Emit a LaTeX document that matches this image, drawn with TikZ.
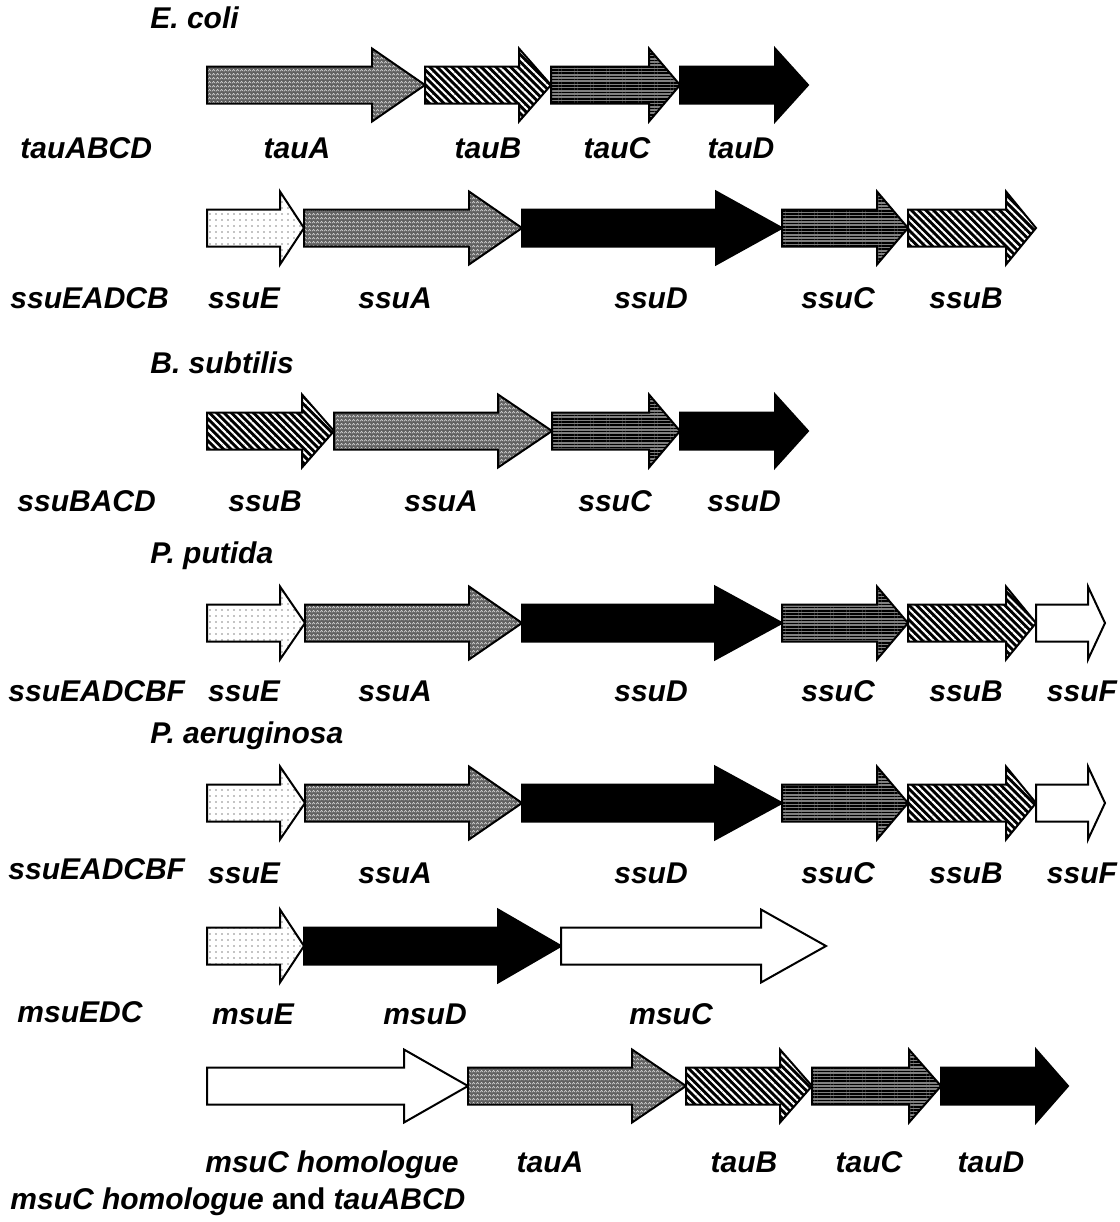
\documentclass[tikz,border=0pt]{standalone}
\usepackage{fontspec}
\setmainfont{Liberation Sans}
\usetikzlibrary{patterns,patterns.meta}

% white zigzag texture on grey
\tikzdeclarepattern{
  name=zigzag,
  type=uncolored,
  bottom left={(0pt,0pt)},
  top right={(2pt,1.8pt)},
  tile size={(2pt,1.8pt)},
  code={
    \draw[line width=0.35pt] (0pt,0.4pt) -- (1pt,1.4pt) -- (2pt,0.4pt);
  }
}

% gene drawn as a block arrow: start x, head base x, tip x, centre y
\newcommand{\genearrow}[5][]{%
  \path[genebox,#1] (#2,#5-18.5) -- (#3,#5-18.5) -- (#3,#5-36.5) -- (#4,#5)
    -- (#3,#5+36.5) -- (#3,#5+18.5) -- (#2,#5+18.5) -- cycle;}

\tikzset{
  genebox/.style={draw=black,line width=1pt,line join=miter},
  gzig/.style={preaction={fill=black!62},pattern=zigzag,pattern color=white!85!black},
  gdiag/.style={preaction={fill=black},
    pattern={Lines[angle=-45,distance=2.6pt,line width=1pt]},pattern color=white},
  ghor/.style={preaction={fill=black!50},
    pattern={Lines[angle=0,distance=1.6pt,line width=0.75pt]},pattern color=black},
  gblack/.style={fill=black},
  gdots/.style={preaction={fill=white},
    pattern={Dots[distance=3pt,radius=0.3pt]},pattern color=black},
  gwhite/.style={fill=white},
  lbl/.style={font=\fontsize{15}{18}\selectfont\bfseries\itshape,anchor=base,inner sep=0pt},
  side/.style={lbl,anchor=base west},
}

\begin{document}
\begin{tikzpicture}[x=0.5pt,y=-0.5pt]
\useasboundingbox (0,0) rectangle (1120,1222);

% ---- E. coli tauABCD ----
\node[side] (ecoli) at (150,28) {E. coli};
\genearrow[gzig]{207}{372}{425}{85}
\genearrow[gdiag]{425}{519}{551}{85}
\genearrow[ghor]{551}{649}{680}{85}
\genearrow[gblack]{680}{775}{808}{85}
\node[side] (tauop) at (20,158) {tauABCD};
\node[lbl] (tA1) at (297,158) {tauA};
\node[lbl] (tB1) at (488,158) {tauB};
\node[lbl] (tC1) at (617,158) {tauC};
\node[lbl] (tD1) at (741,158) {tauD};

% ---- E. coli ssuEADCB ----
\genearrow[gdots]{207}{280}{304}{228}
\genearrow[gzig]{304}{469}{522}{228}
\genearrow[gblack]{522}{716}{782}{228}
\genearrow[ghor]{782}{877}{908}{228}
\genearrow[gdiag]{908}{1006}{1036}{228}
\node[side] (ssuop1) at (10,308) {ssuEADCB};
\node[lbl] (sE2) at (244,308) {ssuE};
\node[lbl] (sA2) at (395,308) {ssuA};
\node[lbl] (sD2) at (651,308) {ssuD};
\node[lbl] (sC2) at (838,308) {ssuC};
\node[lbl] (sB2) at (966,308) {ssuB};

% ---- B. subtilis ssuBACD ----
\node[side] (bsub) at (150,373) {B. subtilis};
\genearrow[gdiag]{207}{302}{334}{431}
\genearrow[gzig]{334}{498}{552}{431}
\genearrow[ghor]{552}{649}{680}{431}
\genearrow[gblack]{680}{775}{808}{431}
\node[side] (ssuop2) at (17,511) {ssuBACD};
\node[lbl] (sB3) at (265,511) {ssuB};
\node[lbl] (sA3) at (441,511) {ssuA};
\node[lbl] (sC3) at (615,511) {ssuC};
\node[lbl] (sD3) at (744,511) {ssuD};

% ---- P. putida ssuEADCBF ----
\node[side] (pput) at (150,563) {P. putida};
\genearrow[gdots]{207}{280}{305}{623}
\genearrow[gzig]{305}{469}{522}{623}
\genearrow[gblack]{522}{715}{782}{623}
\genearrow[ghor]{782}{877}{908}{623}
\genearrow[gdiag]{908}{1006}{1036}{623}
\genearrow[gwhite]{1036}{1088}{1105}{623}
\node[side] (ssuop3) at (8,701) {ssuEADCBF};
\node[lbl] (sE4) at (244,701) {ssuE};
\node[lbl] (sA4) at (395,701) {ssuA};
\node[lbl] (sD4) at (651,701) {ssuD};
\node[lbl] (sC4) at (838,701) {ssuC};
\node[lbl] (sB4) at (966,701) {ssuB};
\node[lbl] (sF4) at (1082,701) {ssuF};

% ---- P. aeruginosa ssuEADCBF ----
\node[side] (paer) at (150,743) {P. aeruginosa};
\genearrow[gdots]{207}{280}{305}{803}
\genearrow[gzig]{305}{469}{522}{803}
\genearrow[gblack]{522}{715}{782}{803}
\genearrow[ghor]{782}{877}{908}{803}
\genearrow[gdiag]{908}{1006}{1036}{803}
\genearrow[gwhite]{1036}{1088}{1105}{803}
\node[side] (ssuop4) at (8,879) {ssuEADCBF};
\node[lbl] (sE5) at (244,883) {ssuE};
\node[lbl] (sA5) at (395,883) {ssuA};
\node[lbl] (sD5) at (651,883) {ssuD};
\node[lbl] (sC5) at (838,883) {ssuC};
\node[lbl] (sB5) at (966,883) {ssuB};
\node[lbl] (sF5) at (1082,883) {ssuF};

% ---- msuEDC ----
\genearrow[gdots]{207}{280}{304}{946}
\genearrow[gblack]{304}{498}{561}{946}
\genearrow[gwhite]{561}{761}{826}{946}
\node[side] (msuop) at (17,1022) {msuEDC};
\node[lbl] (mE6) at (253,1024) {msuE};
\node[lbl] (mD6) at (425,1024) {msuD};
\node[lbl] (mC6) at (671,1024) {msuC};

% ---- msuC homologue and tauABCD ----
\genearrow[gwhite]{207}{404}{468}{1086}
\genearrow[gzig]{468}{632}{686}{1086}
\genearrow[gdiag]{686}{780}{812}{1086}
\genearrow[ghor]{812}{909}{941}{1086}
\genearrow[gblack]{941}{1036}{1068}{1086}
\node[lbl] (mh7) at (332,1172) {msuC homologue};
\node[lbl] (tA7) at (550,1172) {tauA};
\node[lbl] (tB7) at (744,1172) {tauB};
\node[lbl] (tC7) at (869,1172) {tauC};
\node[lbl] (tD7) at (991,1172) {tauD};
\node[side] (lastop) at (10,1209) {msuC homologue \upshape and \itshape tauABCD};
\end{tikzpicture}
\end{document}
